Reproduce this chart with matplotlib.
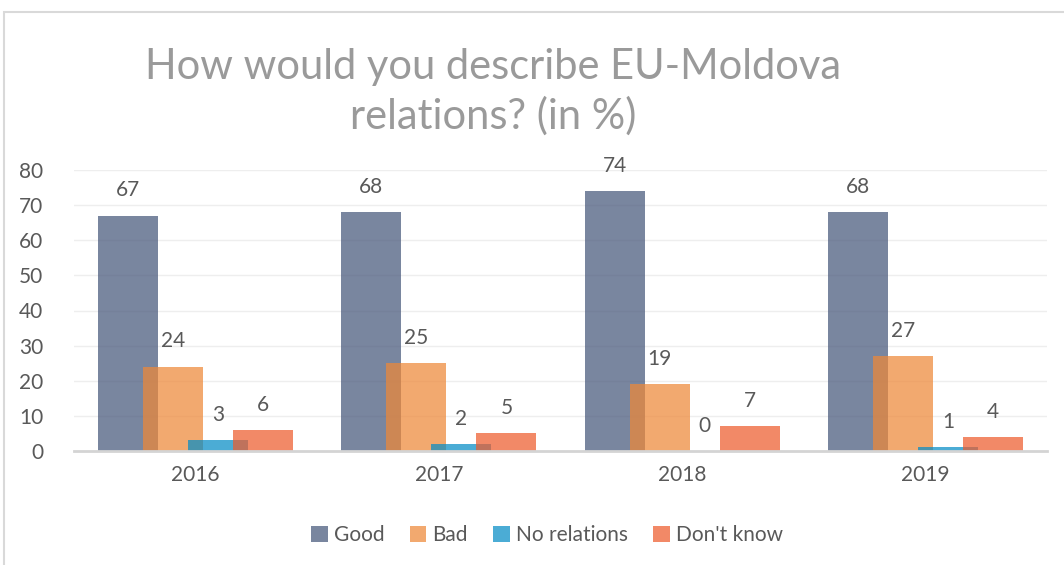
import numpy as np
import matplotlib
matplotlib.use('Agg')
from matplotlib import pyplot as plt
from matplotlib.patches import Rectangle

# 数据
years = ['2016', '2017', '2018', '2019']
series = ['Good', 'Bad', 'No relations', "Don't know"]
good = [67, 68, 74, 68]
bad = [24, 25, 19, 27]
no_rel = [3, 2, 0, 1]
dont_know = [6, 5, 7, 4]
values = [good, bad, no_rel, dont_know]
colors = ['#46577a', '#ee8838', '#058cc6', '#ed5c2d']
yticks = [0, 10, 20, 30, 40, 50, 60, 70, 80]

plt.rcParams['font.family'] = ['Lato', 'DejaVu Sans']

fig = plt.figure(figsize=(10.64, 5.65), dpi=100)
ax = fig.add_axes([74/1064, 114/565, 973/1064, 281/565])

x = np.arange(len(years))
step, width = 0.185, 0.247
for k, (vals, col, name) in enumerate(zip(values, colors, series)):
    pos = x + (k - 1.5)*step
    bars = ax.bar(pos, vals, width=width, color=col, alpha=0.72, label=name, zorder=3)
    for p, v in zip(pos, vals):
        ax.annotate(str(v), (p, v), xytext=(0, 11), textcoords='offset points',
                    ha='center', va='bottom', fontsize=15, color='#595959')

ax.set_xlim(-0.5, 3.5)
ax.set_ylim(0, 80)
ax.set_yticks(yticks)
ax.set_xticks(x)
ax.set_xticklabels(years)
ax.tick_params(axis='both', length=0, labelsize=15, labelcolor='#595959')
ax.tick_params(axis='x', pad=10)
ax.tick_params(axis='y', pad=22)
ax.grid(axis='y', color='#eeeeee', lw=1, zorder=0)
for s in ['top', 'right', 'left']:
    ax.spines[s].set_visible(False)
ax.spines['bottom'].set_color('#d4d4d4')
ax.spines['bottom'].set_linewidth(2)
ax.spines['bottom'].set_zorder(4)

fig.text(493/1064, 1 - 92/565, 'How would you describe EU-Moldova\nrelations? (in %)',
         ha='center', va='center', fontsize=30, color='#9a9a9a', fontweight='normal',
         linespacing=1.3)

handles, labels = ax.get_legend_handles_labels()
fig.legend(handles, labels, loc='center', bbox_to_anchor=(547/1064, 1 - 535/565), ncol=4,
           frameon=False, fontsize=15, labelcolor='#595959', handlelength=0.8,
           handleheight=0.8, handletextpad=0.3, columnspacing=1.2)

# 外框
fig.patches.append(Rectangle((4/1064, -0.1), 1.2, (565-12)/565 + 0.1,
                             transform=fig.transFigure, fill=False,
                             edgecolor='#d9d9d9', lw=1.5))

fig.savefig('out.png', dpi=100)
